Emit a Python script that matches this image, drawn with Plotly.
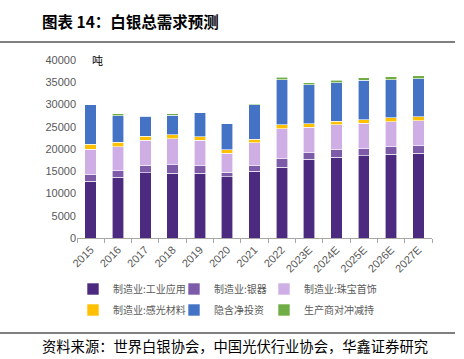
import plotly.graph_objects as go

years = ["2015", "2016", "2017", "2018", "2019", "2020", "2021", "2022",
         "2023E", "2024E", "2025E", "2026E", "2027E"]
industrial = [12700, 13600, 14700, 14500, 14600, 13800, 14950, 15900, 17700, 18100, 18500, 18850, 19050]
silverware = [1500, 1500, 1700, 2000, 1650, 1000, 1250, 1950, 1500, 1700, 1600, 1650, 1700]
jewelry = [5800, 5400, 5600, 5750, 5750, 4300, 5150, 6700, 5700, 5600, 5700, 5650, 5600]
photo = [1100, 1050, 850, 900, 800, 700, 850, 850, 750, 800, 800, 850, 850]
investment = [8800, 5900, 4500, 4450, 5400, 5900, 7700, 10200, 8750, 8700, 8800, 8600, 8600]
hedging = [0, 450, 100, 350, 0, 0, 250, 500, 500, 600, 600, 650, 650]

series = [
    ("制造业:工业应用", industrial, "#4B2A7F"),
    ("制造业:银器", silverware, "#7E5BA8"),
    ("制造业:珠宝首饰", jewelry, "#CFAEE6"),
    ("制造业:感光材料", photo, "#FFC000"),
    ("隐含净投资", investment, "#4472C4"),
    ("生产商对冲减持", hedging, "#70AD47"),
]

L, R, T, B = 77, 32, 60, 121
W, H = 464, 359
pw = W - L - R
ph = H - T - B

def px(x):
    return (x - L) / pw

def py(y):
    return (H - B - y) / ph

# legend grid: 3 columns x 2 rows (left edge of each legend box, row centre)
col_x = [73, 174, 264]
row_y = [289, 310]

fig = go.Figure()
legends = {}
for i, (name, vals, color) in enumerate(series):
    key = "legend" if i == 0 else f"legend{i + 1}"
    fig.add_trace(go.Bar(x=years, y=vals, name=name, legend=key,
                         marker=dict(color=color, line=dict(color="white", width=0.6))))
    legends[key] = dict(orientation="h", xanchor="left", yanchor="middle",
                        x=px(col_x[i % 3]), y=py(row_y[i // 3]),
                        font=dict(family="Noto Sans CJK SC", size=10, color="#595959"),
                        itemwidth=30, bgcolor="rgba(0,0,0,0)")

fig.update_layout(
    width=W, height=H,
    margin=dict(l=L, r=R, t=T, b=B),
    barmode="stack", bargap=0.58,
    plot_bgcolor="white", paper_bgcolor="white",
    font=dict(family="Noto Sans CJK SC", size=11, color="#595959"),
    showlegend=True,
    xaxis=dict(showline=True, linecolor="#A6A6A6", linewidth=1.2,
               ticks="outside", tickson="boundaries", ticklen=4, tickcolor="#A6A6A6",
               tickangle=-45, tickfont=dict(family="Arial, Liberation Sans", size=11, color="#595959")),
    yaxis=dict(range=[0, 40000], dtick=5000, tickformat="d", showgrid=False, zeroline=False, showline=False,
               tickfont=dict(family="Arial, Liberation Sans", size=11, color="#595959")),
    annotations=[
        dict(text="<b>图表 14：白银总需求预测</b>", xref="paper", yref="paper",
             x=px(40), y=py(21), xanchor="left", yanchor="middle", showarrow=False,
             font=dict(family="Noto Sans CJK SC", size=15.5, color="#000000")),
        dict(text="吨", xref="paper", yref="paper", x=px(90), y=py(60),
             xanchor="left", yanchor="middle", showarrow=False,
             font=dict(family="Noto Sans CJK SC", size=11, color="#000000")),
        dict(text="资料来源：世界白银协会，中国光伏行业协会，华鑫证券研究", xref="paper", yref="paper",
             x=px(40), y=py(345), xanchor="left", yanchor="middle", showarrow=False,
             font=dict(family="Noto Sans CJK SC", size=14.3, color="#000000")),
    ],
    shapes=[
        dict(type="line", xref="paper", yref="paper", x0=px(0), x1=px(455), y0=py(42), y1=py(42),
             line=dict(color="#000000", width=1)),
        dict(type="line", xref="paper", yref="paper", x0=px(0), x1=px(455), y0=py(333), y1=py(333),
             line=dict(color="#000000", width=1)),
    ],
)
fig.update_layout(**legends)

fig.write_html("out.html", config={"displayModeBar": False},
               post_script="document.body.style.margin='0';")
